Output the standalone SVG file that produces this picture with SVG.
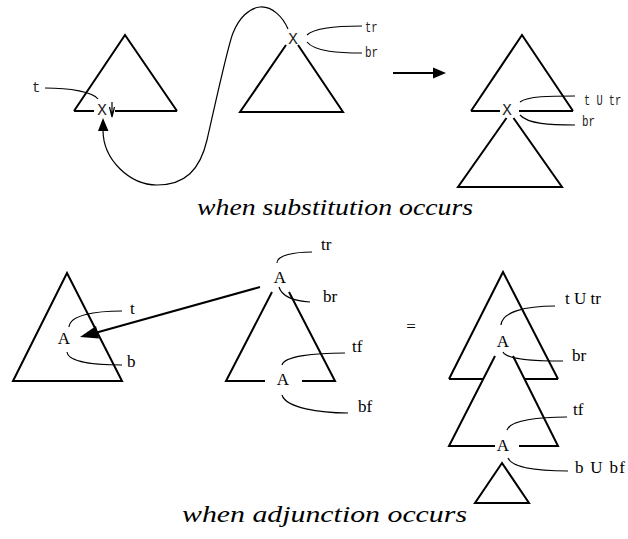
<svg xmlns="http://www.w3.org/2000/svg" width="628" height="539" viewBox="0 0 628 539">
<style>
.tri{fill:none;stroke:#000;stroke-width:2;stroke-linejoin:miter}
.cv{fill:none;stroke:#000;stroke-width:1.2}
.mono{font-family:"Liberation Mono",monospace;font-size:14px;fill:#222}
.big{font-family:"Liberation Mono",monospace;font-size:16px;fill:#222}
.tm{font-family:"Liberation Serif",serif;font-size:17px;fill:#000}
.cap{font-family:"Liberation Serif",serif;font-style:italic;font-size:24px;fill:#000}
.ln{fill:none;stroke:#000;stroke-width:2}
</style>
<rect width="628" height="539" fill="#fff"/>
<g id="tree-t">
<path class="tri" d="M74,111 L125,35 L177,111 M74,111 L94,111 M115,111 L177,111"/>
<text class="big" x="102" y="115" text-anchor="middle">X</text>
<path class="cv" d="M45,88 C70,88 93,92 98,99"/>
<text class="mono" x="32" y="92">t</text>
</g>
<g id="tree-r">
<path class="tri" d="M286,45 L240,112 L343,112 L298,45"/>
<text class="big" x="293" y="44" text-anchor="middle">X</text>
<path class="cv" d="M307,35 C315,27 340,26 362,26"/>
<path class="cv" d="M307,42 C315,52 340,53 362,53"/>
<text class="mono" transform="translate(365,32) scale(0.75,1)">tr</text>
<text class="mono" transform="translate(365,57) scale(0.78,1)">br</text>
</g>
<g id="tree-sub-result">
<path class="tri" d="M471,111 L522,35 L573,111 M471,111 L500,111 M519,111 L573,111"/>
<path class="tri" d="M506.5,118 L458,187 L562,187 L513.5,118"/>
<text class="big" x="507" y="115" text-anchor="middle">X</text>
<path class="cv" d="M520,102 C528,96 550,96 575,96"/>
<path class="cv" d="M520,115 C528,124 550,125 575,125"/>
<text class="mono" transform="translate(584,105) scale(0.74,1)">t U tr</text>
<text class="mono" transform="translate(582,126) scale(0.78,1)">br</text>
</g>
<text class="cap" x="197" y="215" textLength="276" lengthAdjust="spacingAndGlyphs">when substitution occurs</text>
<g id="tree-adj-target">
<path class="tri" d="M13,381 L67,273 L122,381 Z"/>
<text class="tm" x="64" y="344" text-anchor="middle">A</text>
<path class="cv" d="M69,327 C70,315 95,311 122,311"/>
<path class="cv" d="M67,352 C68,362 95,365 122,365"/>
<text class="tm" x="130" y="314">t</text>
<text class="tm" x="127" y="367">b</text>
</g>
<g id="tree-aux">
<path class="tri" d="M272,292 L226,381 L265,381 M302,381 L335,381 L289,292"/>
<text class="tm" x="280" y="283" text-anchor="middle">A</text>
<text class="tm" x="283" y="385" text-anchor="middle">A</text>
<path class="cv" d="M277,263 C277,255 295,252 312,252"/>
<path class="cv" d="M279,287 C282,297 295,301 310,302"/>
<path class="cv" d="M282,365 C284,356 315,353 345,353"/>
<path class="cv" d="M282,395 C286,408 320,413 348,413"/>
<text class="tm" x="321" y="250">tr</text>
<text class="tm" x="323" y="302">br</text>
<text class="tm" x="352" y="352">tf</text>
<text class="tm" x="358" y="412">bf</text>
</g>
<text class="tm" x="411" y="332" text-anchor="middle" font-size="15">=</text>
<g id="tree-adj-result">
<path class="tri" d="M449,379 L503,272 L558,379 M449,379 L483,379 M524,379 L558,379"/>
<path class="tri" d="M495,356 L449,446 L495,446 M519,446 L558,446 L513,356"/>
<path class="tri" d="M502,463 L475,503 L529,503 Z"/>
<text class="tm" x="503" y="347" text-anchor="middle">A</text>
<text class="tm" x="503" y="451" text-anchor="middle">A</text>
<path class="cv" d="M501,325 C502,312 525,306 555,306"/>
<path class="cv" d="M503,352 C507,360 535,361 563,361"/>
<path class="cv" d="M507,430 C510,420 540,417 567,417"/>
<path class="cv" d="M508,458 C512,468 540,471 568,471"/>
<text class="tm" x="565" y="304">t U tr</text>
<text class="tm" x="572" y="361">br</text>
<text class="tm" x="573" y="415">tf</text>
<text class="tm" x="575" y="473" textLength="50" lengthAdjust="spacing">b U bf</text>
</g>
<text class="cap" x="182" y="522" textLength="285" lengthAdjust="spacingAndGlyphs">when adjunction occurs</text>
<g id="connectors">
<path class="cv" d="M288,29 C283,17 272,6 260,7 C249,8 239,18 233,33 C228,45 215,105 207,140 C200,170 185,185 157,185 C130,185 103,160 103,130"/>
<polygon points="103,118 98,131 108.5,131" fill="#000"/>
<path class="cv" d="M112,102 L112,117 M109.5,107 L112,117 L114.5,107"/>
<path class="ln" d="M393,73 L434,73"/>
<polygon points="433,67.5 446,73 433,78.5" fill="#000"/>
<path class="ln" d="M260,287 L95,333"/>
<polygon points="80,337 96,326 99,338.5" fill="#000"/>
</g>
</svg>
